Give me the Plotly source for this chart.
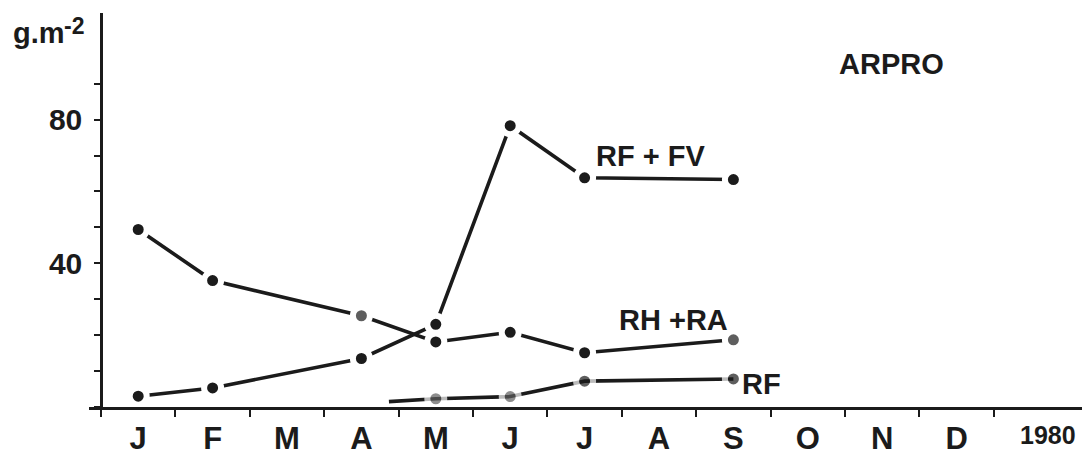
import plotly.graph_objects as go

# Monthly biomass (g.m-2), month index: Jan centre = 0.5, Feb = 1.5, ...
rf_fv_x = [0.5, 1.5, 3.5, 4.5, 5.5, 6.5, 8.5]
rf_fv_y = [3.0, 5.3, 13.5, 23.0, 78.3, 63.8, 63.3]

rh_ra_x = [0.5, 1.5, 3.5, 4.5, 5.5, 6.5, 8.5]
rh_ra_y = [49.4, 35.2, 25.4, 18.1, 20.8, 15.1, 18.7]

rf_x = [3.87, 4.5, 5.5, 6.5, 8.5]
rf_y = [1.5, 2.3, 2.9, 7.2, 7.8]
rf_marker = [False, True, True, True, True]

month_labels = ["J", "F", "M", "A", "M", "J", "J", "A", "S", "O", "N", "D"]
year_label = "1980"
y_tick_values = [0, 10, 20, 30, 40, 50, 60, 70, 80, 90]
y_tick_text = ["", "", "", "", "40", "", "", "", "80", ""]

FONT = "Liberation Sans Narrow, Liberation Sans, Arial, sans-serif"
INK = "#1b1b1b"
GREY_DOT = "#5e5e5e"

W, H = 1082, 456
m_l, m_r, m_t, m_b = 89, 0, 13, 40
px_per_month = 74.4
px_per_unit = 3.675
x_lo = -12 / px_per_month
x_hi = x_lo + (W - m_l - m_r) / px_per_month
y_hi = (H - m_t - m_b) / px_per_unit
plot_w = W - m_l - m_r
plot_h = H - m_t - m_b

DOT = 17
HALO = 6

fig = go.Figure()


def add_series(xs, ys, colors, sizes, halos):
    fig.add_trace(go.Scatter(
        x=xs, y=ys, mode="lines+markers",
        line=dict(color=INK, width=3.6),
        marker=dict(size=sizes, color=colors, line=dict(color="white", width=halos)),
        hoverinfo="skip",
    ))


add_series(rh_ra_x, rh_ra_y,
           [INK, INK, GREY_DOT, INK, INK, INK, GREY_DOT], DOT, HALO)
add_series(rf_fv_x, rf_fv_y, INK, DOT, HALO)
add_series(rf_x, rf_y,
           [INK, GREY_DOT, GREY_DOT, INK, INK],
           [DOT if m else 0 for m in rf_marker],
           [HALO if m else 0 for m in rf_marker])

tick_pos = [i + 0.5 for i in range(12)]

fig.update_layout(
    width=W, height=H,
    margin=dict(l=m_l, r=m_r, t=m_t, b=m_b),
    paper_bgcolor="white", plot_bgcolor="white",
    showlegend=False,
    font=dict(family=FONT, color=INK, size=30, weight="bold"),
    xaxis=dict(
        range=[x_lo, x_hi], showgrid=False, zeroline=False,
        showline=True, linecolor=INK, linewidth=2.5,
        tickmode="array", tickvals=tick_pos, ticktext=month_labels,
        ticks="", ticklabelstandoff=2,
        tickfont=dict(family=FONT, size=31, color=INK, weight="bold"),
        minor=dict(tickmode="array", tickvals=list(range(13)),
                   ticks="outside", ticklen=7, tickwidth=2, tickcolor=INK),
    ),
    yaxis=dict(
        range=[0, y_hi], showgrid=False, zeroline=False,
        anchor="free", position=(0 - x_lo) / (x_hi - x_lo),
        showline=True, linecolor=INK, linewidth=2.5,
        tickmode="array", tickvals=y_tick_values, ticktext=y_tick_text,
        ticks="outside", ticklen=6, tickwidth=2, tickcolor=INK,
        ticklabelstandoff=6,
        tickfont=dict(family=FONT, size=30, color=INK, weight="bold"),
    ),
)

# Year at the right end of the month axis
fig.add_annotation(xref="paper", yref="paper", x=1 - 4 / plot_w, y=-29 / plot_h,
                   xanchor="right", yanchor="middle", showarrow=False,
                   text=year_label, font=dict(family=FONT, size=25, color=INK, weight="bold"))

# Unit label on the y axis
fig.add_annotation(xref="paper", yref="paper", x=-78 / plot_w, y=1 - 20 / plot_h,
                   xanchor="left", yanchor="middle", showarrow=False,
                   text="g.m", font=dict(family=FONT, size=29, color=INK, weight="bold"))
fig.add_annotation(xref="paper", yref="paper", x=-27 / plot_w, y=1 - 13 / plot_h,
                   xanchor="left", yanchor="middle", showarrow=False,
                   text="-2", font=dict(family=FONT, size=23, color=INK, weight="bold"))

# Series labels and site name
labels = [
    ("RF + FV", 7.38, 69.8, 29),
    ("RH +RA", 7.69, 24.2, 29),
    ("RF", 8.88, 6.3, 29),
    ("ARPRO", 10.62, 95.5, 29),
]
for txt, lx, ly, fs in labels:
    fig.add_annotation(x=lx, y=ly, xref="x", yref="y", text=txt, showarrow=False,
                       xanchor="center", yanchor="middle",
                       font=dict(family=FONT, size=fs, color=INK, weight="bold"))

fig.write_html("out.html")
